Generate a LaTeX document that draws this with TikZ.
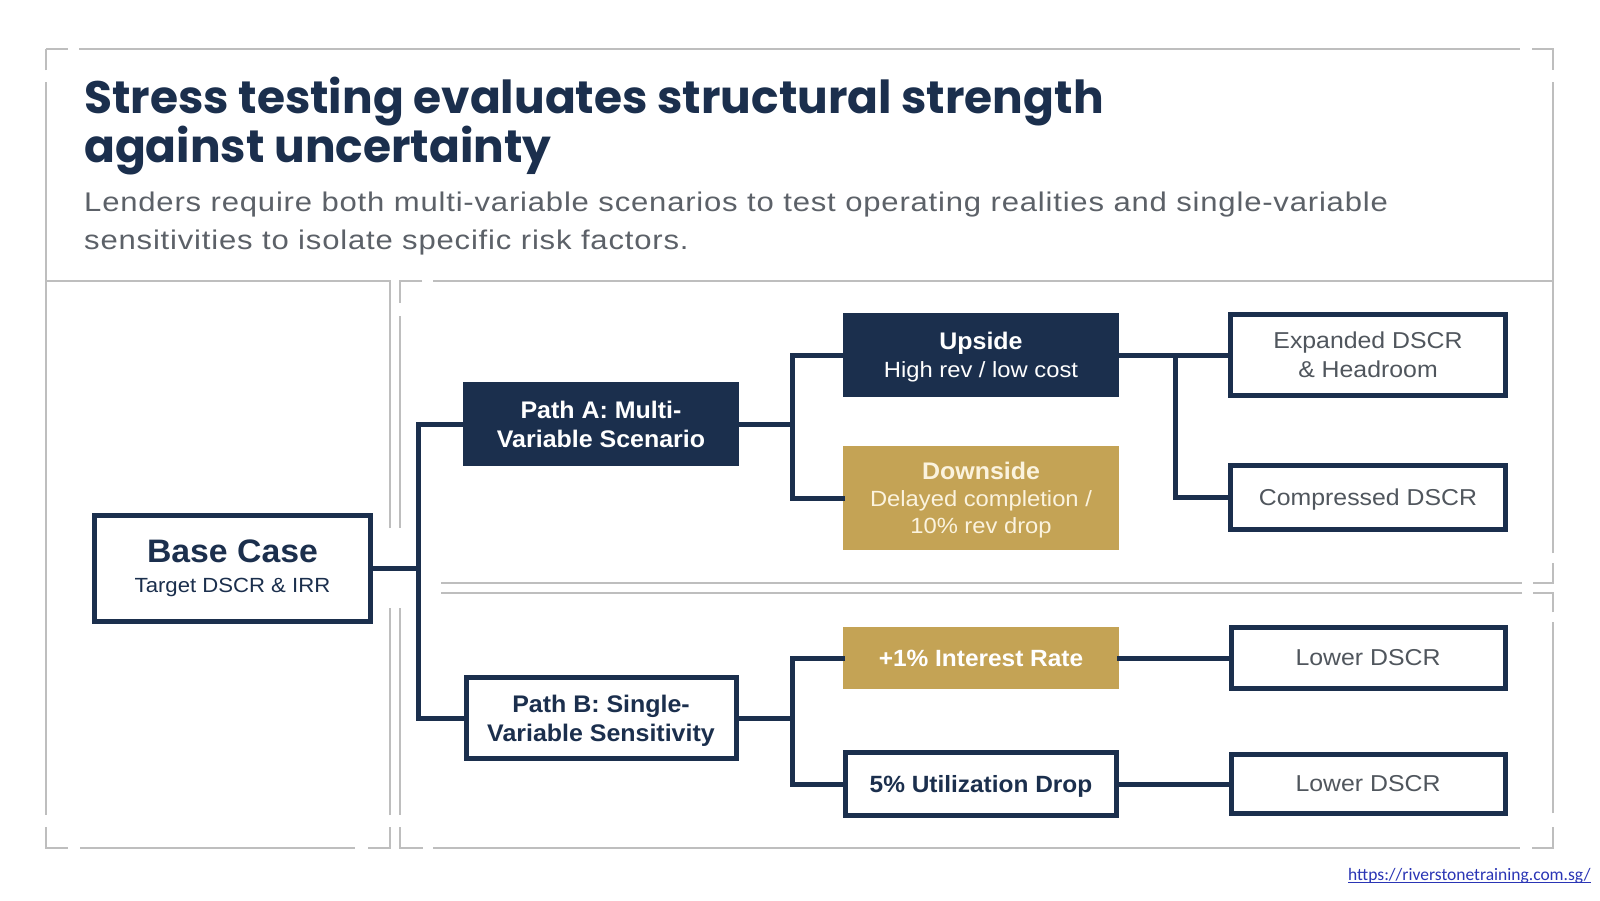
\documentclass[tikz,border=0pt]{standalone}
\usepackage{fontspec}
\setmainfont{Liberation Sans}[UprightFeatures={FakeStretch=1.08}, BoldFeatures={FakeStretch=1.04}]
\newfontfamily\subfont{Liberation Sans}[FakeStretch=1.15, LetterSpace=3]
\newfontfamily\titlefont{Poppins}
\newfontfamily\urlfont{Carlito}
\definecolor{navy}{HTML}{1B2F4D}
\definecolor{gold}{HTML}{C4A355}
\definecolor{framegray}{HTML}{BEBEBE}
\definecolor{subgray}{HTML}{5C6168}
\definecolor{outgray}{HTML}{50565D}
\definecolor{cream}{HTML}{FBF3DE}
\definecolor{urlblue}{HTML}{2A35B5}
\tikzset{
  frame/.style={draw=framegray, line width=2pt},
  conn/.style={draw=navy, line width=5pt, line cap=rect},
  navybox/.style={fill=navy, text=white, inner sep=0pt, align=center},
  goldbox/.style={fill=gold, text=cream, inner sep=0pt, align=center},
  outbox/.style={draw=navy, line width=5pt, fill=white, inner sep=0pt, align=center},
  txt/.style={inner sep=0pt, anchor=base west},
}
\begin{document}
\begin{tikzpicture}[x=1pt, y=-1pt]
\useasboundingbox (0,0) rectangle (1600,900);
\fill[white] (0,0) rectangle (1600,900);

% ---- gray frame lines ----
\draw[frame] (46,49) -- (68,49);
\draw[frame] (79,49) -- (1520,49);
\draw[frame] (1532,49) -- (1553,49) -- (1553,70);
\draw[frame] (46,70) -- (46,49);
\draw[frame] (46,82) -- (46,815);
\draw[frame] (46,827) -- (46,848) -- (68,848);
\draw[frame] (80,848) -- (355,848);
\draw[frame] (368,848) -- (390,848) -- (390,827);
\draw[frame] (390,815) -- (390,608);
\draw[frame] (390,528) -- (390,281) -- (46,281);
\draw[frame] (422,281) -- (400,281) -- (400,303);
\draw[frame] (400,316) -- (400,528);
\draw[frame] (400,608) -- (400,815);
\draw[frame] (400,827) -- (400,848) -- (423,848);
\draw[frame] (433,848) -- (1520,848);
\draw[frame] (1532,848) -- (1553,848) -- (1553,827);
\draw[frame] (1553,813) -- (1553,622);
\draw[frame] (1553,612) -- (1553,593) -- (1533,593);
\draw[frame] (1522,593) -- (441,593);
\draw[frame] (441,583) -- (1522,583);
\draw[frame] (1533,583) -- (1553,583) -- (1553,563);
\draw[frame] (1553,553) -- (1553,82);
\draw[frame] (433,281) -- (1553,281);

% ---- title ----
\node[txt, text=navy, font=\titlefont\bfseries\fontsize{45.5}{49}\selectfont] (t1) at (84,113) {Stress testing evaluates structural strength};
\node[txt, text=navy, font=\titlefont\bfseries\fontsize{45.5}{49}\selectfont] (t2) at (84,162) {against uncertainty};
\node[txt, text=subgray, font=\subfont\fontsize{27}{38}\selectfont] (s1) at (84,211) {Lenders require both multi-variable scenarios to test operating realities and single-variable};
\node[txt, text=subgray, font=\subfont\fontsize{27}{38}\selectfont] (s2) at (84,249) {sensitivities to isolate specific risk factors.};

% ---- nodes ----
\node[outbox, minimum width=276pt, minimum height=106pt, text=navy, font=\fontsize{20.5}{30}\selectfont] (base) at (232.5,568) {{\fontsize{32.5}{36}\selectfont\bfseries Base Case}\\Target DSCR \& IRR};

\node[navybox, minimum width=276pt, minimum height=84pt, font=\bfseries\fontsize{24}{29}\selectfont] (pathA) at (601,424) {Path A: Multi-\\Variable Scenario};
\node[outbox, minimum width=270pt, minimum height=81pt, text=navy, font=\bfseries\fontsize{24}{29}\selectfont] (pathB) at (601,718) {Path B: Single-\\Variable Sensitivit\smash{y}};

\node[navybox, minimum width=276pt, minimum height=84pt, font=\fontsize{22}{28}\selectfont] (upside) at (981,355) {{\bfseries\fontsize{24}{28}\selectfont Upside}\\Hi\smash{g}h rev / low cost};
\node[goldbox, minimum width=276pt, minimum height=104pt, font=\fontsize{22}{27}\selectfont] (downside) at (981,498) {{\bfseries\fontsize{24}{27}\selectfont Downside}\\Delayed completion /\\10\% rev dro\smash{p}};

\node[goldbox, text=white, minimum width=276pt, minimum height=62pt, font=\bfseries\fontsize{23.5}{29}\selectfont] (interest) at (981,658) {+1\% Interest Rate};
\node[outbox, minimum width=271pt, minimum height=63pt, text=navy, font=\bfseries\fontsize{23.5}{29}\selectfont] (util) at (981,784) {5\% Utilization Dro\smash{p}};

\node[outbox, minimum width=275pt, minimum height=81pt, text=outgray, font=\fontsize{23}{29}\selectfont] (expanded) at (1368,355) {Expanded DSCR\\\& Headroom};
\node[outbox, minimum width=275pt, minimum height=64pt, text=outgray, font=\fontsize{23}{29}\selectfont] (compressed) at (1368,497.5) {Com\smash{p}ressed DSCR};
\node[outbox, minimum width=274pt, minimum height=61pt, text=outgray, font=\fontsize{23}{29}\selectfont] (lower1) at (1368,658) {Lower DSCR};
\node[outbox, minimum width=274pt, minimum height=59pt, text=outgray, font=\fontsize{23}{29}\selectfont] (lower2) at (1368,784) {Lower DSCR};

% ---- fork coordinates ----
\coordinate (trunk) at (418,0);
\coordinate (forkA) at (792,0);
\coordinate (forkB) at (792,0);
\coordinate (forkC) at (1175,0);

% ---- connectors ----
\draw[conn] (base.east) -- (base.east -| trunk);
\draw[conn] (pathA.west) -- (pathA.west -| trunk) |- (pathB.west);
\draw[conn] (pathA.east) -- (pathA.east -| forkA);
\draw[conn] (upside.west) -- (upside.west -| forkA) |- (downside.west);
\draw[conn] (upside.east) -- (expanded.west);
\draw[conn] (upside.east -| forkC) |- (compressed.west);
\draw[conn] (pathB.east) -- (pathB.east -| forkB);
\draw[conn] (interest.west) -- (interest.west -| forkB) |- (util.west);
\draw[conn] (interest.east) -- (lower1.west);
\draw[conn] (util.east) -- (lower2.west);

% ---- url ----
\node[txt, text=urlblue, font=\urlfont\fontsize{17.5}{20}\selectfont] (url) at (1348,880) {https://riverstonetraining.com.sg/};
\draw[urlblue, line width=1pt] ([yshift=-2.5pt]url.base west) -- ([yshift=-2.5pt]url.base east);
\end{tikzpicture}
\end{document}
